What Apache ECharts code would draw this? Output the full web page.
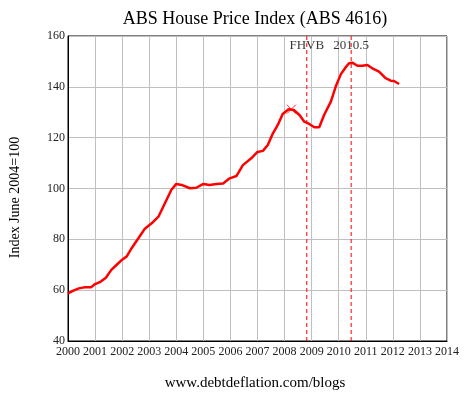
<!DOCTYPE html>
<html>
<head>
<meta charset="utf-8">
<script src="https://cdn.jsdelivr.net/npm/echarts@6/dist/echarts.min.js"></script>
<style>html,body{margin:0;padding:0;background:#fff}#c{width:467px;height:393px}</style>
</head>
<body>
<div id="c"></div>
<script>
var dates = [2000.0,2000.2,2000.4,2000.6,2000.85,2001.0,2001.2,2001.4,2001.6,2001.8,2002.0,2002.17,2002.35,2002.6,2002.84,2003.1,2003.34,2003.58,2003.82,2004.0,2004.2,2004.5,2004.74,2005.0,2005.23,2005.48,2005.73,2005.97,2006.22,2006.46,2006.77,2007.0,2007.2,2007.38,2007.57,2007.75,2007.93,2008.15,2008.34,2008.55,2008.73,2008.91,2009.1,2009.28,2009.46,2009.71,2009.89,2010.08,2010.26,2010.38,2010.5,2010.69,2010.87,2011.06,2011.24,2011.49,2011.73,2011.92,2012.04,2012.23];
var values = [58.7,59.8,60.7,61.1,61.1,62.4,63.3,64.9,68.0,70.0,72.0,73.3,76.5,80.4,84.2,86.4,88.9,94.2,99.5,101.8,101.4,100.1,100.3,101.8,101.4,101.8,102.0,104.0,104.9,109.2,111.9,114.4,114.8,117.1,121.7,125.0,129.3,131.2,130.9,128.9,126.3,125.4,124.1,124.1,128.9,134.2,140.1,145.0,147.7,149.3,149.5,148.3,148.3,148.6,147.3,146.0,143.4,142.4,142.3,141.1];
var eventNames = ["FHVB", "2010.5"];
var eventDates = [2008.82, 2010.46];
var crossPoint = [2008.25, 131.2];
var labelLevel = 156.3;
var yMin = 40, yMax = 160;

var lineData = dates.map(function(d, i){ return [d, values[i]]; });
var font = "'Liberation Serif', 'DejaVu Serif', serif";
var chart = echarts.init(document.getElementById('c'), null, {renderer: 'canvas'});

var eventSeries = eventDates.map(function(d, i){
  return {
    type: 'line', data: [[d, yMin], [d, yMax]], showSymbol: false, silent: true,
    lineStyle: {color: '#ff0000', type: [4, 3], width: 1},
    z: 1
  };
});
var labelSeries = {
  type: 'scatter', silent: true, symbolSize: 0,
  data: eventDates.map(function(d, i){ return {value: [d, labelLevel], name: eventNames[i]}; }),
  label: {show: true, position: 'inside', formatter: function(p){ return p.name; }, fontFamily: font, fontSize: 13, color: '#000'}
};

chart.setOption({
  animation: false,
  backgroundColor: '#fff',
  title: {
    text: 'ABS House Price Index (ABS 4616)',
    left: 250, top: 5, textAlign: 'center',
    textStyle: {fontFamily: font, fontSize: 18, fontWeight: 'normal', color: '#000'}
  },
  grid: {left: 65, right: 20, top: 36, bottom: 52, show: true, borderColor: '#000', borderWidth: 1},
  xAxis: {
    type: 'value', min: 2000, max: 2014, interval: 1,
    axisLine: {lineStyle: {color: '#000', width: 1}},
    axisTick: {show: false},
    axisLabel: {fontFamily: font, fontSize: 12, color: '#222', margin: 5, formatter: function(v){return String(v);}},
    splitLine: {show: true, lineStyle: {color: '#c0c0c0', width: 1}}
  },
  yAxis: {
    type: 'value', min: yMin, max: yMax, interval: 20,
    name: 'Index June 2004=100', nameLocation: 'middle', nameGap: 46, nameRotate: 90,
    nameTextStyle: {fontFamily: font, fontSize: 14, color: '#000', padding: [0, 18, 0, 0]},
    axisLine: {show: true, lineStyle: {color: '#000', width: 1}},
    axisTick: {show: false},
    axisLabel: {fontFamily: font, fontSize: 12, color: '#222', margin: 3},
    splitLine: {show: true, lineStyle: {color: '#c0c0c0', width: 1}}
  },
  graphic: [{
    type: 'text', x: 255, y: 376,
    style: {text: 'www.debtdeflation.com/blogs', font: '15px ' + font, fill: '#000', textAlign: 'center'}
  }],
  series: eventSeries.concat([labelSeries, {
    type: 'line', data: lineData, showSymbol: false, smooth: false,
    lineStyle: {color: '#ff0000', width: 2.5}, z: 3
  }, {
    type: 'scatter', data: [crossPoint], silent: true,
    symbol: 'path://M0,0L10,10M10,0L0,10', symbolSize: 9,
    itemStyle: {color: 'none', borderColor: '#ff0000', borderWidth: 1}, z: 4
  }])
});
</script>
</body>
</html>
